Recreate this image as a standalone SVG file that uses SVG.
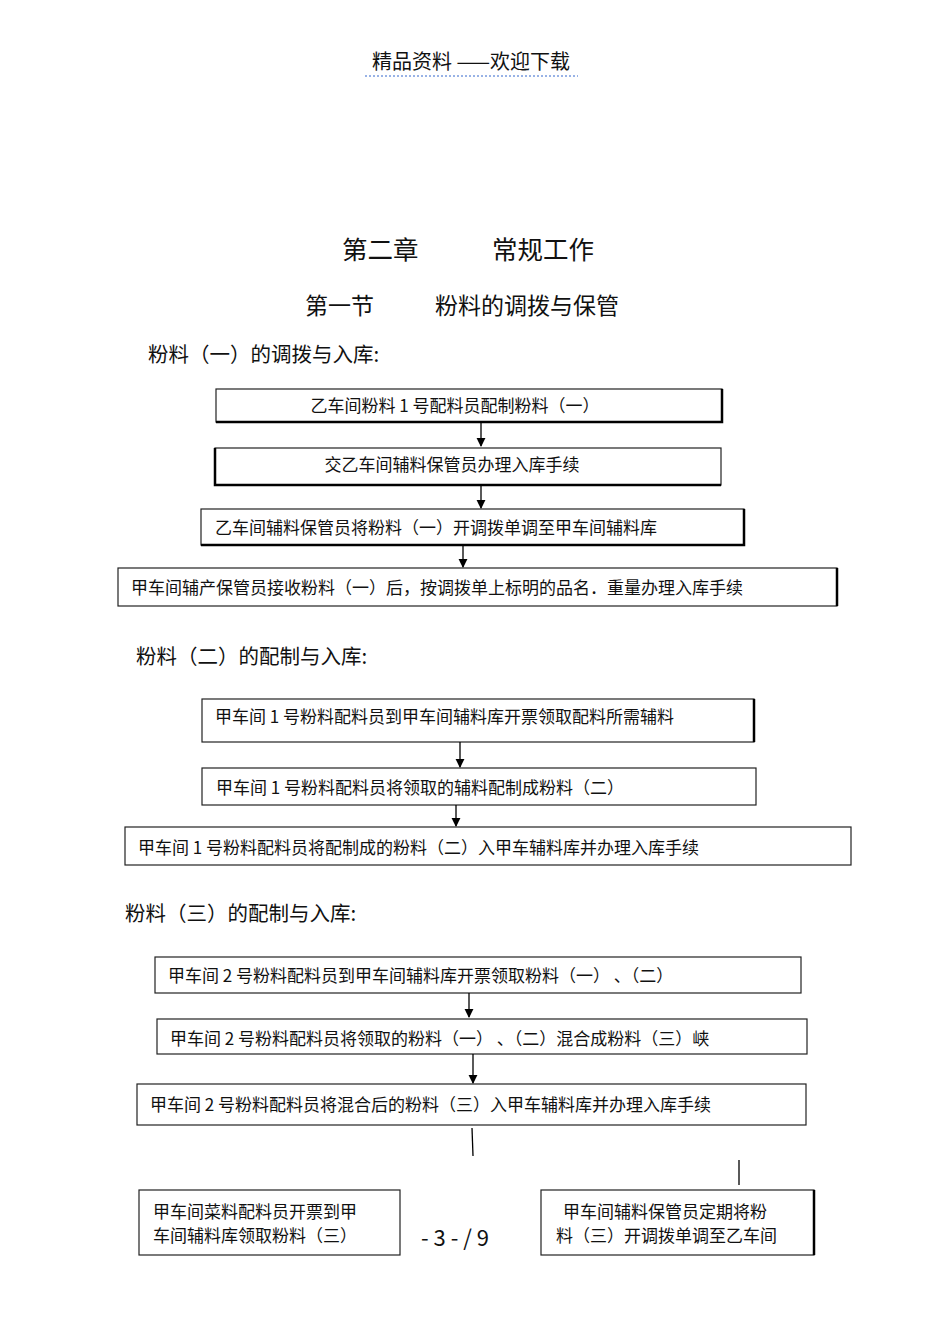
<svg xmlns="http://www.w3.org/2000/svg" width="950" height="1341" viewBox="0 0 950 1341">
<style>
text{font-family:"Noto Sans CJK SC","Liberation Serif",sans-serif;fill:#111}
.b{font-size:17px}
.h{font-size:20.5px}
.box{fill:#fff;stroke:#222;stroke-width:1.2}
.sh{stroke:#000;stroke-width:2.5;fill:none}
.c{stroke:#000;stroke-width:1.3;fill:none}
</style>
<defs><marker id="a" viewBox="0 0 10 10" refX="9" refY="5" markerWidth="7" markerHeight="7" orient="auto"><path d="M0,0 L10,5 L0,10 z" fill="#000"/></marker></defs>
<text x="471" y="69" font-size="20" text-anchor="middle">精品资料 ——欢迎下载</text>
<line x1="365" y1="76" x2="578" y2="76" stroke="#36c" stroke-dasharray="2,2"/>
<text x="342" y="259" font-size="25.5">第二章</text><text x="492" y="259" font-size="25.5">常规工作</text>
<text x="305" y="314" font-size="23">第一节</text><text x="435" y="314" font-size="23">粉料的调拨与保管</text>
<text x="148" y="362" class="h">粉料（一）的调拨与入库:</text>
<text x="136" y="664" class="h">粉料（二）的配制与入库:</text>
<text x="125" y="921" class="h">粉料（三）的配制与入库:</text>
<g id="n1"><rect class="box" x="216" y="389" width="506" height="33"/><path class="sh" d="M722,389V422H216"/><text class="b" x="455" y="412" text-anchor="middle">乙车间粉料   1 号配料员配制粉料（一）</text></g>
<g id="n2"><rect class="box" x="215" y="448" width="506" height="37"/><path class="sh" d="M215,448V485H721"/><text class="b" x="452" y="471" text-anchor="middle">交乙车间辅料保管员办理入库手续</text></g>
<g id="n3"><rect class="box" x="201" y="509" width="543" height="36"/><path class="sh" d="M744,509V545H201"/><text class="b" x="215" y="534">乙车间辅料保管员将粉料（一）开调拨单调至甲车间辅料库</text></g>
<g id="n4"><rect class="box" x="118" y="568" width="719" height="38"/><path class="sh" d="M837,568V606"/><text class="b" x="131" y="594">甲车间辅产保管员接收粉料（一）后，按调拨单上标明的品名．重量办理入库手续</text></g>
<g id="n5"><rect class="box" x="202" y="699" width="552" height="43"/><path class="sh" d="M754,699V742"/><text class="b" x="215" y="723">甲车间  1 号粉料配料员到甲车间辅料库开票领取配料所需辅料</text></g>
<g id="n6"><rect class="box" x="202" y="768" width="554" height="37"/><text class="b" x="216" y="794">甲车间  1 号粉料配料员将领取的辅料配制成粉料（二）</text></g>
<g id="n7"><rect class="box" x="125" y="827" width="726" height="38"/><text class="b" x="138" y="854">甲车间  1 号粉料配料员将配制成的粉料（二）入甲车辅料库并办理入库手续</text></g>
<g id="n8"><rect class="box" x="155" y="957" width="646" height="36"/><text class="b" x="168" y="982">甲车间  2 号粉料配料员到甲车间辅料库开票领取粉料（一）        、（二）</text></g>
<g id="n9"><rect class="box" x="157" y="1019" width="650" height="35"/><text class="b" x="170" y="1045">甲车间  2 号粉料配料员将领取的粉料（一）     、（二）混合成粉料（三）峡</text></g>
<g id="n10"><rect class="box" x="137" y="1084" width="669" height="41"/><text class="b" x="150" y="1111">甲车间  2 号粉料配料员将混合后的粉料（三）入甲车辅料库并办理入库手续</text></g>
<g id="n11"><rect class="box" x="139" y="1190" width="261" height="65"/><text class="b" x="153" y="1218">甲车间菜料配料员开票到甲</text><text class="b" x="153" y="1242">车间辅料库领取粉料（三）</text></g>
<g id="n12"><rect class="box" x="541" y="1190" width="273" height="65"/><path class="sh" d="M814,1190V1255"/><text class="b" x="563" y="1218">甲车间辅料保管员定期将粉</text><text class="b" x="556" y="1242">料（三）开调拨单调至乙车间</text></g>
<g id="connectors">
<line class="c" x1="481" y1="422" x2="481" y2="446" marker-end="url(#a)"/>
<line class="c" x1="481" y1="485" x2="481" y2="508" marker-end="url(#a)"/>
<line class="c" x1="463" y1="545" x2="463" y2="567" marker-end="url(#a)"/>
<line class="c" x1="460" y1="742" x2="460" y2="767" marker-end="url(#a)"/>
<line class="c" x1="456" y1="805" x2="456" y2="826" marker-end="url(#a)"/>
<line class="c" x1="469" y1="993" x2="469" y2="1017" marker-end="url(#a)"/>
<line class="c" x1="473" y1="1054" x2="473" y2="1083" marker-end="url(#a)"/>
<line class="c" x1="472" y1="1128" x2="473" y2="1156"/>
<line class="c" x1="739" y1="1160" x2="739" y2="1185"/>
</g>
<text x="455" y="1246" font-size="22" font-family="Liberation Sans" text-anchor="middle">- 3 - / 9</text>
</svg>
